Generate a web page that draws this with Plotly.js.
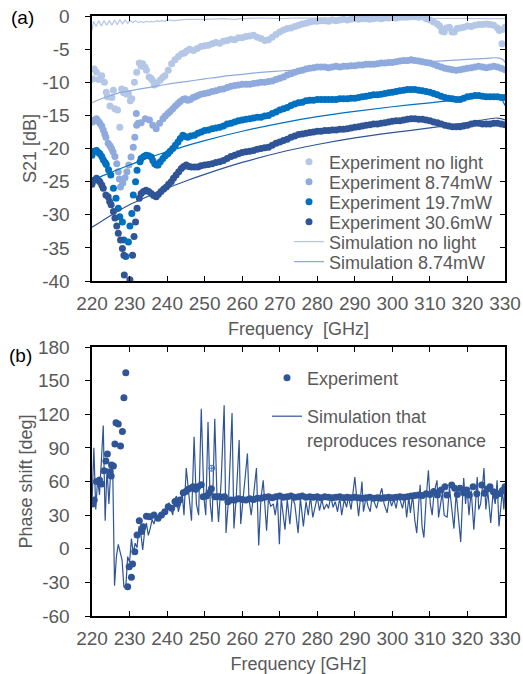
<!DOCTYPE html>
<html><head><meta charset="utf-8">
<script src="https://cdn.plot.ly/plotly-3.0.1.min.js"></script>
<style>html,body{margin:0;padding:0;background:#fff}#chart{width:523px;height:674px}</style>
</head><body><div id="chart"></div>
<script>
// ---------- Panel (a): S21 ----------
const freqNoLight = [220.2,220.6,221.2,221.8,222.6,223.3,223.8,224.1,224.8,225.3,225.7,226.1,226.8,227.4,227.9,228.4,228.8,229.3,229.7,230.2,230.6,231.3,231.9,232.6,233.1,233.5,234.1,234.5,235.2,235.7,236.1,236.6,237.2,238.1,238.8,239.4,240.3,241.2,242.1,243.0,243.9,244.6,245.2,246,247,248,249,250,251,252,253,254,255,256,257,258,259,260,261,262,263,264,265,266,267,268,269,270,271,272,273,274,275,276,277,278,279,280,281,282,283,284,285,286,287,288,289,290,291,292,293,294,295,296,297,298,299,300,301,302,303,304,305,306,307,308,309,310,311,312,312.6,313.2,313.8,314.4,315.2,315.9,316.5,317.2,318,319,320,321,322,323,324,325,326,327,328,328.5,329.2,329.6,330];
const s21NoLight = [-9.5,-8.0,-8.5,-9.6,-9.0,-10.0,-11.5,-12.2,-13.6,-12.3,-11.2,-14.0,-14.2,-16.8,-11.0,-11.6,-11.2,-11.8,-11.7,-12.8,-12.5,-10.0,-8.5,-7.1,-7.6,-7.2,-7.7,-8.2,-9.2,-9.4,-9.7,-10.4,-10.2,-9.7,-9.3,-9.0,-8.2,-7.2,-6.6,-6.1,-5.7,-5.6,-5.3,-5.0,-5.2,-4.9,-4.6,-4.5,-4.4,-4.2,-4.0,-4.1,-3.8,-3.7,-3.5,-3.6,-3.3,-3.3,-3.1,-3.0,-2.9,-3.2,-3.4,-3.7,-3.6,-3.2,-2.8,-2.4,-2.1,-1.9,-1.8,-1.6,-1.4,-1.2,-1.1,-0.9,-0.8,-0.8,-0.7,-0.7,-0.8,-0.6,-0.7,-0.6,-0.5,-0.6,-0.5,-0.4,-0.5,-0.4,-0.4,-0.5,-0.4,-0.3,-0.4,-0.3,-0.3,-0.2,-0.3,-0.2,-0.2,-0.2,-0.1,-0.1,-0.2,-0.1,-0.4,-0.6,-0.9,-1.2,-1.5,-2.3,-2.4,-1.8,-1.7,-2.4,-2.4,-1.9,-1.8,-1.7,-1.5,-1.6,-1.4,-1.3,-1.3,-1.2,-1.3,-1.4,-1.8,-2.2,-4.2,-2.0,-1.7];

const freq874 = [220.2,220.7,221.2,221.7,222.1,222.6,223.0,223.4,223.7,224.3,224.8,225.2,225.6,226.1,226.6,227.0,227.3,227.6,228.2,228.8,229.3,229.8,230.4,231.0,231.4,231.8,231.9,232.3,233.1,234.2,235.3,236.2,237.1,238.0,238.9,239.5,240.2,240.8,241.5,242.2,242.9,243.5,244.2,244.8,245.5,246.2,246.9,247.5,248.2,249,250,251,252,253,254,255,256,257,258,259,260,261,262,263,264,265,266,267,268,269,270,271,272,273,274,275,276,277,278,279,280,281,282,283,284,285,286,287,288,289,290,291,292,293,294,295,296,297,298,299,300,301,302,303,304,305,306,307,308,309,310,311,312,313,314,315,316,317,318,319,320,321,322,323,324,325,326,327,328,329,330];
const s21_874 = [-16.0,-15.7,-15.5,-15.9,-16.2,-16.6,-17.2,-17.8,-18.3,-19.2,-19.6,-20.0,-20.5,-21.2,-22.3,-23.5,-24.6,-25.8,-25.2,-24.4,-23.5,-22.5,-21.3,-19.8,-18.3,-14.7,-16.5,-16.2,-16.1,-15.5,-15.7,-16.5,-17.0,-16.2,-15.5,-15.1,-14.7,-14.4,-14.0,-13.6,-13.2,-12.9,-12.6,-12.5,-12.7,-12.6,-12.3,-12.2,-12.0,-11.8,-11.7,-11.6,-11.4,-11.3,-11.1,-11.0,-10.8,-10.6,-10.5,-10.4,-10.3,-10.3,-10.3,-10.2,-10.1,-10.0,-10.0,-9.9,-9.8,-9.6,-9.4,-9.2,-8.9,-8.7,-8.5,-8.3,-8.2,-8.0,-7.9,-7.8,-7.7,-7.7,-7.7,-7.8,-7.7,-7.6,-7.7,-7.6,-7.6,-7.5,-7.5,-7.4,-7.4,-7.3,-7.3,-7.3,-7.2,-7.1,-7.1,-7.0,-7.0,-6.9,-6.8,-6.7,-6.7,-6.6,-6.7,-6.8,-6.9,-7.0,-7.1,-7.3,-7.5,-7.7,-7.9,-8.0,-8.1,-8.2,-8.1,-8.0,-7.9,-7.8,-7.7,-7.6,-7.7,-7.8,-7.7,-7.6,-7.7,-7.9,-8.1];

const freq197 = [220.0,220.6,221.2,221.7,222.1,222.6,223.0,223.5,223.8,224.4,225.0,225.7,226.4,227.0,227.4,228.1,228.5,229.0,229.7,230.1,230.6,231.0,231.6,232.0,232.8,233.1,233.8,234.4,235.1,235.8,236.2,236.7,237.2,237.6,238.2,238.9,239.5,240.2,240.8,241.5,242.2,242.9,243.5,244.2,244.8,245.5,246.3,247.3,248.2,249.1,250,251,252,253,254,255,256,257,258,259,260,261,262,263,264,265,266,267,268,269,270,271,272,273,274,275,276,277,278,279,280,281,282,283,284,285,286,287,288,289,290,291,292,293,294,295,296,297,298,299,300,301,302,303,304,305,306,307,308,309,310,311,312,313,314,315,316,317,318,319,320,321,322,323,324,325,326,327,328,329,330];
const s21_197 = [-21.0,-20.4,-20.3,-20.6,-20.8,-21.2,-21.7,-22.1,-22.4,-23.2,-24.0,-26.0,-27.5,-29.0,-30.3,-31.1,-33.8,-36.3,-34.1,-31.7,-29.8,-27.0,-25.0,-23.3,-22.0,-21.5,-21.2,-21.0,-21.1,-21.3,-21.8,-22.3,-22.5,-22.5,-22.0,-21.5,-21.1,-20.8,-20.4,-20.0,-19.5,-19.0,-18.5,-18.0,-18.2,-18.3,-18.1,-18.0,-17.7,-17.5,-17.3,-17.2,-17.0,-16.9,-16.8,-16.6,-16.3,-16.2,-16.0,-15.8,-15.7,-15.6,-15.5,-15.4,-15.3,-15.3,-15.1,-15.0,-14.7,-14.5,-14.2,-14.0,-13.8,-13.5,-13.3,-13.1,-13.0,-12.8,-12.7,-12.7,-12.6,-12.6,-12.6,-12.6,-12.6,-12.6,-12.5,-12.5,-12.5,-12.4,-12.4,-12.3,-12.2,-12.1,-12.0,-11.9,-11.9,-11.8,-11.7,-11.6,-11.5,-11.4,-11.3,-11.2,-11.1,-11.1,-11.1,-11.2,-11.3,-11.4,-11.5,-11.7,-11.9,-12.1,-12.3,-12.4,-12.5,-12.6,-12.6,-12.4,-12.2,-12.1,-12.0,-12.0,-12.1,-12.2,-12.2,-12.2,-12.2,-12.3,-12.3];

const freq306 = [220.0,220.6,221.2,221.7,222.1,222.6,223.0,223.7,224.3,224.7,225.1,225.7,226.1,226.6,227.0,227.6,228.1,228.5,228.6,230.1,230.8,231.2,231.6,232.0,232.6,233.1,233.7,234.4,235.1,235.8,236.4,237.1,237.7,238.4,239.1,239.8,240.4,241.1,241.7,242.4,243.1,243.8,244.4,245.1,245.8,246.4,247.3,248.2,249,250,251,252,253,254,255,256,257,258,259,260,261,262,263,264,265,266,267,268,269,270,271,272,273,274,275,276,277,278,279,280,281,282,283,284,285,286,287,288,289,290,291,292,293,294,295,296,297,298,299,300,301,302,303,304,305,306,307,308,309,310,311,312,313,314,315,316,317,318,319,320,321,322,323,324,325,326,327,328,329,330];
const s21_306 = [-25.4,-24.8,-24.5,-24.8,-25.0,-25.5,-26.0,-27.0,-27.3,-28.0,-28.5,-29.5,-30.5,-31.7,-32.8,-33.8,-35.1,-36.1,-39.1,-39.8,-36.1,-33.3,-31.1,-29.0,-27.5,-26.8,-26.5,-26.3,-26.5,-26.8,-27.1,-27.3,-26.9,-26.5,-26.1,-25.8,-25.4,-25.0,-24.5,-24.0,-23.5,-23.0,-22.7,-22.5,-22.7,-22.8,-22.8,-22.8,-22.6,-22.5,-22.4,-22.3,-22.1,-22.0,-21.8,-21.5,-21.2,-21.0,-20.8,-20.6,-20.5,-20.4,-20.3,-20.1,-20.0,-19.9,-19.8,-19.5,-19.2,-19.0,-18.8,-18.6,-18.3,-18.1,-17.9,-17.8,-17.7,-17.6,-17.5,-17.4,-17.4,-17.3,-17.3,-17.2,-17.2,-17.1,-17.1,-17.0,-16.9,-16.8,-16.7,-16.6,-16.5,-16.4,-16.3,-16.3,-16.2,-16.1,-16.0,-15.9,-15.8,-15.8,-15.7,-15.6,-15.5,-15.5,-15.6,-15.6,-15.7,-15.8,-16.0,-16.1,-16.3,-16.5,-16.6,-16.7,-16.7,-16.7,-16.6,-16.5,-16.3,-16.2,-16.2,-16.3,-16.3,-16.3,-16.2,-16.2,-16.3,-16.4];

const simFreqNoLight = [220,220.4,221.1,221.8,222.5,223.2,223.9,224.6,225.3,226.0,226.7,227.4,228.1,228.8,229.5,230.2,230.9,231.6,232.3,233.0,233.7,234.4,235.1,235.8,236.5,237.2,237.9,238.6,239.3,240,242,245,250,255,258,260,265,270,275,280,285,290,300,310,320,325,330];
const simNoLight = [-2.2,-0.8,-1.6,-0.7,-1.5,-0.7,-1.4,-0.7,-1.4,-0.6,-1.3,-0.6,-1.2,-0.6,-1.1,-0.7,-1.0,-0.7,-1.0,-0.8,-1.0,-0.8,-0.9,-0.8,-0.9,-0.7,-0.8,-0.7,-0.8,-0.6,-0.7,-0.5,-0.5,-0.4,-0.5,-0.4,-0.3,-0.4,-0.3,-0.3,-0.4,-0.3,-0.3,-0.3,-0.3,-0.3,-0.4];

const simFreq874 = [220,222,225,228,230,235,240,245,250,255,260,265,270,280,290,300,310,320,325,327,328.5,329.5,330];
const sim874 = [-13.1,-12.6,-12.0,-11.5,-11.3,-10.8,-10.3,-9.9,-9.5,-9.1,-8.8,-8.5,-8.3,-7.95,-7.6,-7.2,-6.9,-6.55,-6.4,-6.3,-6.35,-6.6,-7.0];

const simFreq197 = [220,225,230,235,240,245,250,260,270,280,290,300,310,320,328,329,330];
const sim197 = [-24.8,-23.6,-22.5,-21.4,-20.5,-19.6,-18.8,-17.4,-16.2,-15.2,-14.4,-13.7,-13.1,-12.5,-12.2,-12.5,-13.5];

const simFreq306 = [220,225,230,235,240,245,250,260,270,280,290,300,310,320,328,330];
const sim306 = [-31.9,-30.1,-28.5,-27.2,-26.0,-24.9,-23.9,-22.1,-20.6,-19.4,-18.4,-17.6,-16.9,-16.1,-15.4,-15.7];

// ---------- Panel (b): phase ----------
const phaseExpFreq = [220.2,220.6,221.2,222.0,222.6,223.2,223.7,224.1,224.8,225.1,225.2,225.7,226.1,226.4,227.0,227.6,228.1,228.5,229.0,229.5,229.9,230.5,230.8,231.4,232.0,232.6,233.2,233.6,234.5,235.4,236.5,237.6,238.5,239.4,240.3,241.2,242.1,242.7,243.4,244.3,245.0,245.6,246.3,246.9,247.6,248.2,249.1,249.6,250.5,251.2,251.8,252.7,253.4,254.0,254.7,255.3,256.2,257,258,259,260,261,262,263,264,265,266,267,268,269,270,271,272,273,274,275,276,277,278,279,280,281,282,283,284,285,286,287,288,289,290,291,292,293,294,295,296,297,298,299,300,301,302,303,304,305,306,307,308,309,310,311,312,313,314,314.5,315.8,316.6,317.3,318,319,319.8,320.5,321.5,322.5,323.8,324.5,325.2,326,326.9,327.6,328.7,329.3,330];
const phaseExp = [40,43.5,60,61.4,57.8,69.6,78.3,84.5,68.8,65,74.7,73.8,93.5,112.5,111.3,91.7,104.5,134.8,157.1,-33.8,-16,-25.5,-13.6,-2.6,12.3,25,15.5,19.7,29,28.6,30.1,27.2,30.1,33.1,37.5,36.1,42.1,40,43.5,50,51,53,54,55.4,53,55.4,57,46.4,47,50,53.6,46.4,46.4,46.4,46,46.4,42,43.5,43.4,44.5,44,43.4,44.5,44,45,45,46,46.5,45.5,46.5,47,46,46.5,47,46,46.5,47,46,46.5,46,46.5,45.5,46.5,46,45.5,46,46.5,45.5,46,45.5,46,45.5,45,45.5,46,45,45.5,45,45.5,46,45.5,46,46.5,46,46.5,47,47.5,48,47.5,49,48.5,51,48,52.4,55.4,48,56.9,53.9,48.5,53.9,50,52.4,48,55.4,49,56.9,49.5,53,55.4,50.9,47.5,49.4,52,55.4];

const phaseSimFreq = [220.0,220.5,221.0,221.5,222.0,222.5,223.0,223.5,224.0,224.5,225.0,225.5,226.0,226.5,227.0,227.5,228.0,228.5,229.0,229.5,230.0,230.5,231.0,231.5,232.0,232.5,233.0,233.5,234.0,234.5,235.0,235.5,236.0,236.5,237.0,237.5,238.0,238.5,239.0,239.5,240.0,240.5,241.0,241.5,242.0,242.5,243.0,243.5,244.0,244.5,245.1,245.8,246.5,247.2,247.8,248.4,249.1,249.8,250.3,250.9,251.5,252.0,252.7,253.3,253.7,254.4,255.2,255.7,256.4,257.3,257.8,258.4,259.2,259.6,260.2,261.4,261.8,262.4,263.1,263.8,264.4,265.0,265.6,266.0,266.5,267.0,267.6,268.3,268.8,269.4,269.9,270.4,271.0,271.4,272.0,272.7,273.3,274.0,274.9,275.5,276.3,277.0,277.6,278.2,278.8,279.4,280.0,280.6,281.2,281.8,282.5,283.0,283.6,284.2,284.8,285.4,286.0,286.5,287.2,287.8,288.3,289.0,289.5,290.0,290.5,291.0,291.5,291.9,292.3,293.0,293.5,294.1,294.6,295.2,295.8,296.5,297.2,297.8,298.6,299.2,299.8,300.4,301.0,301.5,302.1,302.7,303.3,303.8,304.4,304.8,305.4,306.0,306.5,307.0,307.4,307.9,308.4,309.0,309.6,310.1,310.6,311.1,311.9,312.3,312.8,313.3,313.8,314.6,315.2,315.8,316.4,317.0,317.5,318.2,318.7,319.0,319.5,319.9,320.4,321.0,321.7,322.2,322.6,323.0,323.5,324.0,324.4,324.9,325.4,326.2,326.8,327.4,327.9,328.4,329.0,329.3,329.7,330.0];
const phaseSim = [40,90,35,62,48,78,110,25,72,40,70,75,-33,-7,4,-3,-10,-34,-34,-7,-12,9,-4,5,1,20,14,-1,15,23,12,18,26,22,29,26,31,29,35,33,38,41,36,30,44,47,33,40,50,30,72,45,25,100,40,30,125,46,30,113,40,24,116,45,24,60,128,14,46,121,18,45,97,22,43,85,45,30,50,72,3,45,61,40,16,45,38,40,30,45,4,45,26,17,44,22,46,40,14,45,20,42,30,47,28,37,46,34,44,35,40,36,47,37,42,33,46,30,44,37,47,35,48,64,46,29,45,60,33,46,38,33,47,42,36,46,54,40,32,46,38,44,36,46,43,36,47,28,46,32,48,25,14,40,57,20,10,45,70,40,30,50,61,28,39,50,30,28,55,35,18,50,30,6,45,63,40,55,30,52,17,48,64,35,40,55,72,35,52,23,50,40,61,20,45,52,35,55];

const markFreq = [251.9];
const markPhase = [71.8];

// ---------- Tick labels ----------
const freqTicks = [220,230,240,250,260,270,280,290,300,310,320,330];
const freqTickText = ['220','230','240','250','260','270','280','290','300','310','320','330'];
const s21Ticks = [0,-5,-10,-15,-20,-25,-30,-35,-40];
const s21TickText = ['0','-5','-10','-15','-20','-25','-30','-35','-40'];
const phaseTicks = [180,150,120,90,60,30,0,-30,-60];
const phaseTickText = ['180','150','120','90','60','30','0','-30','-60'];

const cE0 = '#b4c7e7', cE1 = '#8faadc', cE2 = '#0070c0', cE3 = '#2f5597';
const FONT = 'Liberation Sans, Arial, sans-serif';
const GREY = '#595959';

const traces = [
  {x: freqNoLight, y: s21NoLight, mode:'markers', name:'Experiment no light', marker:{color:cE0,size:7}, xaxis:'x', yaxis:'y', legend:'legend'},
  {x: freq874, y: s21_874, mode:'markers', name:'Experiment 8.74mW', marker:{color:cE1,size:7}, xaxis:'x', yaxis:'y', legend:'legend2'},
  {x: freq197, y: s21_197, mode:'markers', name:'Experiment 19.7mW', marker:{color:cE2,size:7}, xaxis:'x', yaxis:'y', legend:'legend3'},
  {x: freq306, y: s21_306, mode:'markers', name:'Experiment 30.6mW', marker:{color:cE3,size:7}, xaxis:'x', yaxis:'y', legend:'legend4'},
  {x: simFreqNoLight, y: simNoLight, mode:'lines', name:'Simulation no light', line:{color:cE0,width:1.2}, xaxis:'x', yaxis:'y', legend:'legend5'},
  {x: simFreq874, y: sim874, mode:'lines', name:'Simulation 8.74mW', line:{color:cE1,width:1.2,shape:'spline'}, xaxis:'x', yaxis:'y', legend:'legend6'},
  {x: simFreq197, y: sim197, mode:'lines', name:'Simulation 19.7mW', showlegend:false, line:{color:cE2,width:1.2,shape:'spline'}, xaxis:'x', yaxis:'y'},
  {x: simFreq306, y: sim306, mode:'lines', name:'Simulation 30.6mW', showlegend:false, line:{color:cE3,width:1.2,shape:'spline'}, xaxis:'x', yaxis:'y'},
  {x: [null], y: [null], mode:'markers', showlegend:false, hoverinfo:'skip', xaxis:'x', yaxis:'y3'},
  {x: phaseExpFreq, y: phaseExp, mode:'markers', name:'Experiment', marker:{color:cE3,size:7}, xaxis:'x2', yaxis:'y2', legend:'legend7'},
  {x: phaseSimFreq, y: phaseSim, mode:'lines', name:'Simulation that<br>reproduces resonance', line:{color:cE3,width:1.2}, xaxis:'x2', yaxis:'y2', legend:'legend8'},
  {x: markFreq, y: markPhase, mode:'markers', showlegend:false, marker:{color:'#4472c4',size:6,symbol:'circle-cross-open',line:{width:1}}, xaxis:'x2', yaxis:'y2'},
  {x: [null], y: [null], mode:'markers', showlegend:false, hoverinfo:'skip', xaxis:'x2', yaxis:'y4'}
];

const xTop = [92/523, 505/523];
const yTopDom = [1-281/674, 1-16/674];
const yBotDom = [1-616/674, 1-347/674];

const TICKSIZE = 19, TITLESIZE = 18;
const xCommon = {range:[220,330], tickmode:'array', tickvals:freqTicks, ticktext:freqTickText, ticks:'inside', ticklen:5, tickcolor:'#000', tickwidth:1,
  showline:true, linecolor:'#000', linewidth:1.6, mirror:'ticks', showgrid:false, zeroline:false,
  tickfont:{family:FONT,size:TICKSIZE,color:GREY}, ticklabelstandoff:5, automargin:true};
const yCommon = {ticks:'outside', ticklen:5, tickcolor:'#000', tickwidth:1, showline:true, linecolor:'#000', linewidth:1.6,
  mirror:true, showgrid:false, zeroline:false, tickfont:{family:FONT,size:TICKSIZE,color:GREY}, ticklabelstandoff:12, tickmode:'array'};
const yRight = {ticks:'inside', ticklen:5, tickcolor:'#000', tickwidth:1, showline:false, showgrid:false, zeroline:false,
  showticklabels:false, side:'right', tickmode:'array'};

const legFont = {family:FONT,size:18,color:GREY};
function leg(xpx, ypx) {
  return {x:xpx/523, xanchor:'left', y:1-ypx/674, yanchor:'middle', bgcolor:'rgba(0,0,0,0)', font:legFont, itemwidth:30, valign:'top'};
}
const titleFont = {family:FONT,size:TITLESIZE,color:GREY};

const layout = {
  width:523, height:674, margin:{l:0,r:0,t:0,b:0,autoexpand:false}, paper_bgcolor:'#fff', plot_bgcolor:'#fff',
  font:{family:FONT, color:GREY},
  showlegend:true,
  xaxis: Object.assign({}, xCommon, {domain:xTop, anchor:'y', title:{text:'Frequency\u00a0 [GHz]', font:titleFont, standoff:9}}),
  yaxis: Object.assign({}, yCommon, {domain:yTopDom, anchor:'x', range:[-40,0], tickvals:s21Ticks, ticktext:s21TickText, automargin:true, title:{text:'S21 [dB]', font:titleFont, standoff:1}}),
  yaxis3: Object.assign({}, yRight, {overlaying:'y', anchor:'x', range:[-40,0], tickvals:s21Ticks}),
  xaxis2: Object.assign({}, xCommon, {domain:xTop, anchor:'y2', title:{text:'Frequency [GHz]', font:titleFont, standoff:9}}),
  yaxis2: Object.assign({}, yCommon, {domain:yBotDom, anchor:'x2', range:[-60,180], tickvals:phaseTicks, ticktext:phaseTickText, title:{text:'Phase shift [deg]', font:titleFont}}),
  yaxis4: Object.assign({}, yRight, {overlaying:'y2', anchor:'x2', range:[-60,180], tickvals:phaseTicks}),
  legend: leg(289, 162),
  legend2: leg(289, 182),
  legend3: leg(289, 202),
  legend4: leg(289, 222),
  legend5: leg(289, 242),
  legend6: leg(289, 262),
  legend7: leg(267, 378),
  legend8: leg(267, 428),
  annotations:[
    {text:'(a)', xref:'paper', yref:'paper', x:22/523, y:1-17/674, showarrow:false, font:{family:FONT,size:19,color:'#000'}, xanchor:'center', yanchor:'middle'},
    {text:'(b)', xref:'paper', yref:'paper', x:20/523, y:1-355/674, showarrow:false, font:{family:FONT,size:19,color:'#000'}, xanchor:'center', yanchor:'middle'}
  ]
};

Plotly.newPlot('chart', traces, layout, {displayModeBar:false, staticPlot:true});
</script>
</body></html>
